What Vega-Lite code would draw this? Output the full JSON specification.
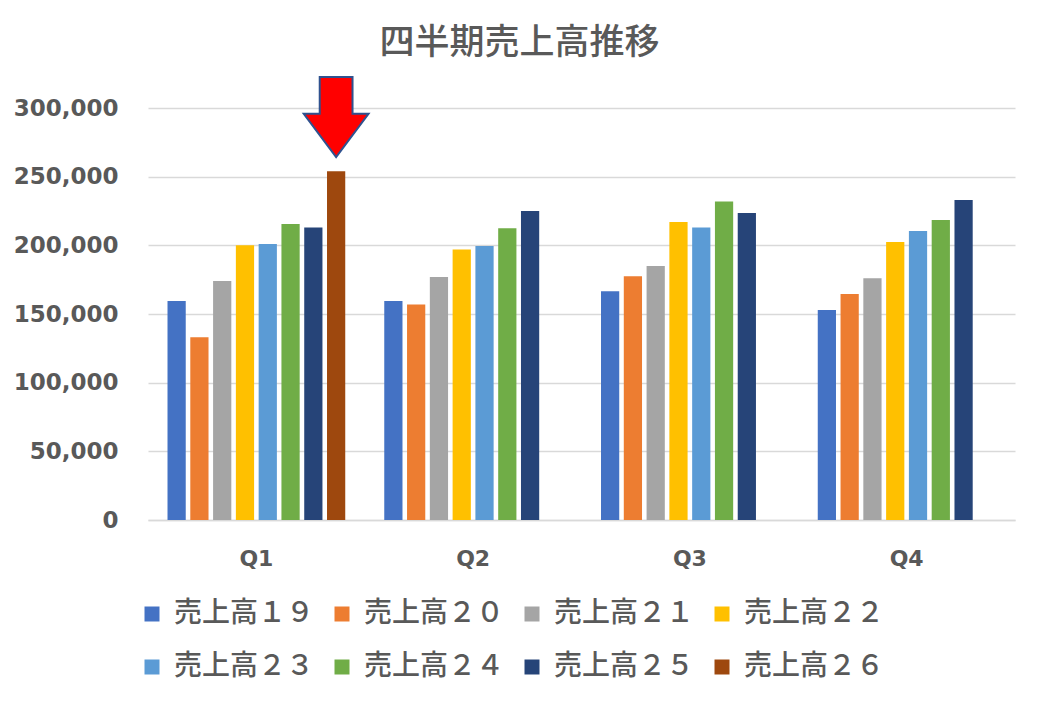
{
  "$schema": "https://vega.github.io/schema/vega-lite/v6.json",
  "width": 867,
  "height": 412,
  "autosize": {"type": "none"},
  "padding": {"left": 148, "top": 108, "right": 23, "bottom": 181},
  "background": "white",
  "title": {
    "text": "四半期売上高推移",
    "font": "Noto Sans CJK JP",
    "fontSize": 35,
    "fontWeight": 500,
    "color": "#595959",
    "anchor": "middle",
    "dx": -62,
    "offset": 12
  },
  "config": {"view": {"stroke": null}},
  "encoding": {
    "x": {
      "field": "q", "type": "nominal", "title": null,
      "scale": {"paddingInner": 0.18, "paddingOuter": 0.09},
      "axis": {"labelAngle": 0, "ticks": false, "domainColor": "#d9d9d9", "domainWidth": 1.5, "labelPadding": 28,
               "labelColor": "#595959", "labelFont": "DejaVu Sans", "labelFontWeight": "bold", "labelFontSize": 22}
    },
    "xOffset": {
      "field": "series", "type": "nominal",
      "scale": {"paddingInner": 0.2, "domain": ["売上高１９", "売上高２０", "売上高２１", "売上高２２", "売上高２３", "売上高２４", "売上高２５", "売上高２６"]}
    },
    "y": {
      "field": "sales", "type": "quantitative", "title": null,
      "scale": {"domain": [0, 300000]},
      "axis": {"values": [0, 50000, 100000, 150000, 200000, 250000, 300000], "format": ",d", "domain": false, "ticks": false, "labelPadding": 30,
               "gridColor": "#d9d9d9", "gridWidth": 1.5,
               "labelColor": "#595959", "labelFont": "DejaVu Sans", "labelFontWeight": "bold", "labelFontSize": 23}
    }
  },
  "layer": [
    {
      "data": {
        "values": [
          {"q": "Q1", "series": "売上高１９", "sales": 159500},
          {"q": "Q1", "series": "売上高２０", "sales": 133000},
          {"q": "Q1", "series": "売上高２１", "sales": 174000},
          {"q": "Q1", "series": "売上高２２", "sales": 200000},
          {"q": "Q1", "series": "売上高２３", "sales": 201000},
          {"q": "Q1", "series": "売上高２４", "sales": 215500},
          {"q": "Q1", "series": "売上高２５", "sales": 213000},
          {"q": "Q1", "series": "売上高２６", "sales": 254000},
          {"q": "Q2", "series": "売上高１９", "sales": 159500},
          {"q": "Q2", "series": "売上高２０", "sales": 157000},
          {"q": "Q2", "series": "売上高２１", "sales": 177000},
          {"q": "Q2", "series": "売上高２２", "sales": 197000},
          {"q": "Q2", "series": "売上高２３", "sales": 199500},
          {"q": "Q2", "series": "売上高２４", "sales": 212500},
          {"q": "Q2", "series": "売上高２５", "sales": 225000},
          {"q": "Q3", "series": "売上高１９", "sales": 166500},
          {"q": "Q3", "series": "売上高２０", "sales": 177500},
          {"q": "Q3", "series": "売上高２１", "sales": 185000},
          {"q": "Q3", "series": "売上高２２", "sales": 217000},
          {"q": "Q3", "series": "売上高２３", "sales": 213000},
          {"q": "Q3", "series": "売上高２４", "sales": 232000},
          {"q": "Q3", "series": "売上高２５", "sales": 223500},
          {"q": "Q4", "series": "売上高１９", "sales": 153000},
          {"q": "Q4", "series": "売上高２０", "sales": 164500},
          {"q": "Q4", "series": "売上高２１", "sales": 176000},
          {"q": "Q4", "series": "売上高２２", "sales": 202500},
          {"q": "Q4", "series": "売上高２３", "sales": 210500},
          {"q": "Q4", "series": "売上高２４", "sales": 218500},
          {"q": "Q4", "series": "売上高２５", "sales": 233000}
        ]
      },
      "mark": "bar",
      "encoding": {
        "color": {
          "field": "series", "type": "nominal",
          "scale": {
            "domain": ["売上高１９", "売上高２０", "売上高２１", "売上高２２", "売上高２３", "売上高２４", "売上高２５", "売上高２６"],
            "range": ["#4472c4", "#ed7d31", "#a5a5a5", "#ffc000", "#5b9bd5", "#70ad47", "#264478", "#9e480e"]
          },
          "legend": {
            "title": null,
            "orient": "none",
            "legendX": -10,
            "legendY": 492,
            "direction": "horizontal",
            "columns": 4,
            "symbolType": "square",
            "symbolSize": 225,
            "symbolStrokeWidth": 0,
            "labelFont": "Noto Sans CJK JP",
            "labelFontSize": 28,
            "labelFontWeight": 500,
            "labelColor": "#595959",
            "labelOffset": 8,
            "columnPadding": 13,
            "rowPadding": 25,
            "labelLimit": 300
          }
        }
      }
    },
    {
      "data": {"values": [{"q": "Q1", "series": "売上高２６", "sales": 293400}]},
      "mark": {
        "type": "point",
        "shape": "M-0.41,-1L0.41,-1L0.41,-0.08L0.81,-0.08L0,1L-0.81,-0.08L-0.41,-0.08Z",
        "size": 6400,
        "filled": true,
        "fill": "#ff0000",
        "stroke": "#2f528f",
        "strokeWidth": 2,
        "opacity": 1
      }
    }
  ]
}
